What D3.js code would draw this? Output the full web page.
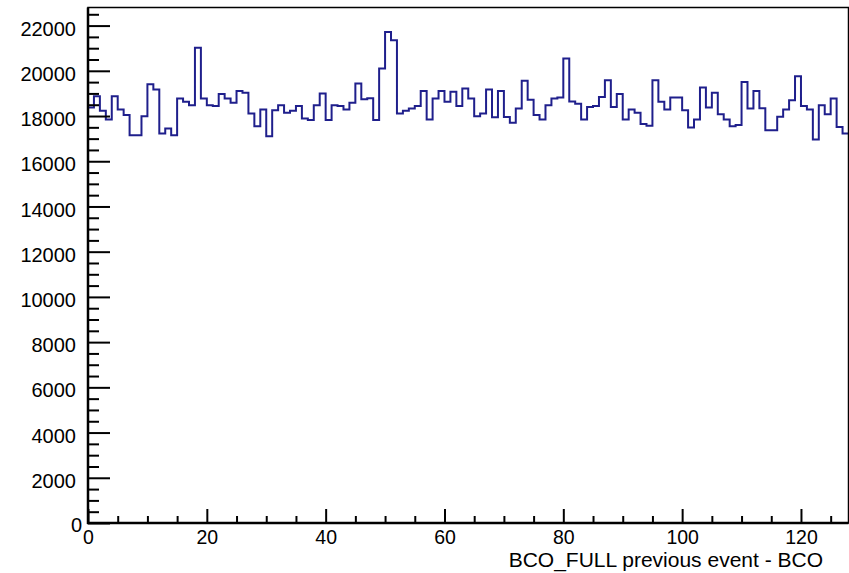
<!DOCTYPE html>
<html>
<head>
<meta charset="utf-8">
<script src="https://cdn.jsdelivr.net/npm/d3@7"></script>
<style>
  body { margin: 0; background: #fff; }
  svg { display: block; }
  text { font-family: "Liberation Sans", Arial, sans-serif; fill: #000; }
</style>
</head>
<body>
<svg id="chart" width="849" height="573"></svg>
<script>
// Histogram: 128 bins over [0, 128)
const xDomain = [0, 128];
const yDomain = [0, 22800];

const binCounts = [
  18380, 18880, 18230, 17850, 18880, 18290, 18040, 17150, 17150, 17990,
  19410, 19170, 17230, 17450, 17150, 18780, 18630, 18480, 21020, 18780,
  18480, 18440, 18970, 18780, 18590, 19110, 19030, 18110, 17550, 18290,
  17110, 18250, 18480, 18140, 18230, 18440, 17890, 17820, 18480, 19000,
  17820, 18480, 18440, 18290, 18590, 19440, 18740, 18790, 17820, 20100,
  21720, 21350, 18110, 18230, 18330, 18440, 19110, 17850, 18780, 19110,
  18630, 19070, 18440, 19220, 18780, 17990, 18110, 19170, 17950, 19110,
  17960, 17700, 18330, 19560, 18720, 18040, 17850, 18480, 18780, 18820,
  20540, 18640, 18540, 17850, 18400, 18440, 18840, 19580, 18400, 18970,
  17850, 18290, 18140, 17650, 17570, 19580, 18630, 18290, 18820, 18820,
  18260, 17490, 17850, 19260, 18380, 19030, 18080, 17850, 17550, 17600,
  19510, 18330, 19110, 18340, 17370, 17370, 17970, 18290, 18700, 19760,
  18440, 18290, 16960, 18480, 18080, 18780, 17520, 17230
];

const xTickValues = [0, 20, 40, 60, 80, 100, 120];
const xTickLabels = ["0", "20", "40", "60", "80", "100", "120"];
const xMinorStep = 5;
const yTickValues = [0, 2000, 4000, 6000, 8000, 10000, 12000, 14000, 16000, 18000, 20000, 22000];
const yTickLabels = ["0", "2000", "4000", "6000", "8000", "10000", "12000", "14000", "16000", "18000", "20000", "22000"];
const yMinorStep = 500;
const xAxisTitle = "BCO_FULL previous event - BCO";

const frame = { left: 88, right: 848.5, top: 7.5, bottom: 523 };
const lineColor = "#1f1f8c";

const svg = d3.select("#chart");

const x = d3.scaleLinear().domain(xDomain).range([frame.left, frame.right]);
const y = d3.scaleLinear().domain(yDomain).range([frame.bottom, frame.top]);

const binWidth = (xDomain[1] - xDomain[0]) / binCounts.length;

// Histogram outline as a step line
const stepPoints = binCounts.map((v, i) => [xDomain[0] + i * binWidth, v]);
stepPoints.push([xDomain[1], binCounts[binCounts.length - 1]]);

const line = d3.line()
  .x(d => x(d[0]))
  .y(d => y(d[1]))
  .curve(d3.curveStepAfter);

svg.append("path")
  .datum(stepPoints)
  .attr("d", line)
  .attr("fill", "none")
  .attr("stroke", lineColor)
  .attr("stroke-width", 2);

// Frame
svg.append("rect")
  .attr("x", frame.left)
  .attr("y", frame.top)
  .attr("width", frame.right - frame.left)
  .attr("height", frame.bottom - frame.top)
  .attr("fill", "none")
  .attr("stroke", "#000")
  .attr("stroke-width", 1.5);

// Minor ticks
const xMinor = d3.range(xDomain[0], xDomain[1] + 0.001, xMinorStep).filter(v => !xTickValues.includes(v));
const yMinor = d3.range(yDomain[0], yDomain[1] + 0.001, yMinorStep).filter(v => !yTickValues.includes(v));

const xMinorAxis = d3.axisBottom(x).tickValues(xMinor).tickSize(-7).tickFormat("");
const yMinorAxis = d3.axisLeft(y).tickValues(yMinor).tickSize(-11).tickFormat("");

const xMajorAxis = d3.axisBottom(x).tickValues(xTickValues)
  .tickSize(-14).tickPadding(7)
  .tickFormat((d, i) => xTickLabels[i]);
const yMajorAxis = d3.axisLeft(y).tickValues(yTickValues)
  .tickSize(-22).tickPadding(12)
  .tickFormat((d, i) => yTickLabels[i]);

function styleAxis(g) {
  g.select(".domain").remove();
  g.selectAll(".tick line").attr("stroke", "#000").attr("stroke-width", 2);
}

svg.append("g").attr("transform", `translate(0,${frame.bottom})`).call(xMinorAxis).call(styleAxis);
svg.append("g").attr("transform", `translate(${frame.left},0)`).call(yMinorAxis).call(styleAxis);

const gx = svg.append("g").attr("transform", `translate(0,${frame.bottom})`).call(xMajorAxis).call(styleAxis);
gx.selectAll(".tick text")
  .attr("font-family", "Liberation Sans, Arial, sans-serif")
  .attr("font-size", 19.5)
  .attr("fill", "#000");

const gy = svg.append("g").attr("transform", `translate(${frame.left},0)`).call(yMajorAxis).call(styleAxis);
gy.selectAll(".tick text")
  .attr("font-family", "Liberation Sans, Arial, sans-serif")
  .attr("font-size", 20)
  .attr("fill", "#000")
  .attr("dy", "0.48em");
// zero label sits a little closer to the corner
gy.selectAll(".tick text").filter(d => d === 0).attr("x", -6).attr("dy", "0.42em");

// Axis lines drawn over the frame
svg.append("line")
  .attr("x1", frame.left).attr("x2", frame.left)
  .attr("y1", frame.top).attr("y2", frame.bottom + 1)
  .attr("stroke", "#000").attr("stroke-width", 2.5);
svg.append("line")
  .attr("x1", frame.left - 1).attr("x2", frame.right)
  .attr("y1", frame.bottom).attr("y2", frame.bottom)
  .attr("stroke", "#000").attr("stroke-width", 2.5);

// Axis title
svg.append("text")
  .attr("x", 823)
  .attr("y", 567)
  .attr("text-anchor", "end")
  .attr("font-size", 21)
  .text(xAxisTitle);
</script>
</body>
</html>
